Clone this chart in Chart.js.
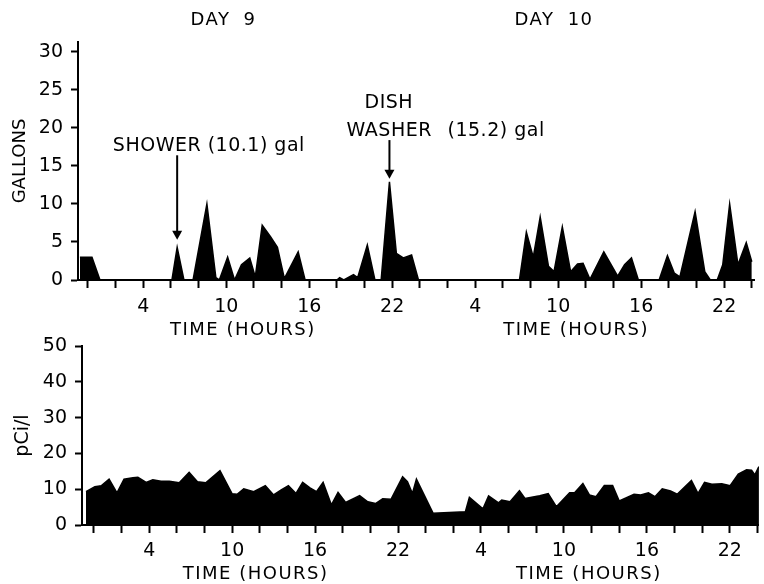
<!DOCTYPE html>
<html>
<head>
<meta charset="utf-8">
<script src="https://cdn.jsdelivr.net/npm/chart.js@4.4.0/dist/chart.umd.min.js"></script>
<style>
    body { margin: 0; background: #fff; }
    canvas { position: absolute; left: 0; }
    #gallonsChart { top: 0; }
    #radonChart { top: 320px; }
</style>
</head>
<body>
<canvas id="gallonsChart" width="764" height="340"></canvas>
<canvas id="radonChart" width="764" height="264"></canvas>
<script>
// Hours are counted from the start of day 9 (24 = start of day 10)

// Water use, gallons
const gallonHours = [-0.58, 0.29, 0.87, 6.07, 6.45, 6.94, 7.6, 8.6, 9.25, 9.5,
    10.1, 10.6, 11.1, 11.7, 12.1, 12.6, 13.2, 13.7, 14.2, 15.2,
    15.7, 18.0, 18.2, 18.5, 19.2, 19.5, 20.2, 20.75, 21.2, 21.8,
    22.3, 22.8, 23.4, 23.9, 31.2, 31.7, 32.2, 32.7, 33.3, 33.7,
    34.3, 34.9, 35.4, 35.8, 36.3, 37.3, 38.3, 38.8, 39.3, 39.8,
    41.3, 41.9, 42.4, 42.8, 43.9, 44.6, 45.0, 45.5, 45.9, 46.4,
    47.0, 47.6, 48.0];
const gallons = [3.0, 3.0, 0, 0, 4.3, 0, 0, 10.0, 0.3, 0,
    3.0, 0, 2.0, 2.9, 0.4, 7.2, 5.7, 4.3, 0.2, 3.7,
    0, 0, 0.3, 0, 0.7, 0.3, 4.6, 0, 0, 12.9,
    3.5, 2.9, 3.3, 0, 0, 6.3, 3.0, 8.3, 1.8, 1.1,
    7.0, 1.1, 2.1, 2.2, 0.1, 3.7, 0.5, 2.0, 2.9, 0,
    0, 3.2, 0.9, 0.4, 9.0, 1.1, 0, 0, 2.0, 10.0,
    2.0, 4.9, 2.4];

// Radon in air, pCi/l
const radonHours = [-0.57, 0.07, 0.55, 1.1, 1.67, 2.18, 2.82, 3.18, 3.78, 4.26,
    4.86, 5.46, 6.17, 6.89, 7.49, 8.09, 9.12, 10.0, 10.36, 10.84,
    11.56, 12.4, 13.0, 13.55, 14.07, 14.62, 15.1, 15.63, 16.1, 16.58,
    17.18, 17.66, 18.21, 19.22, 19.81, 20.37, 20.89, 21.49, 22.33, 22.68,
    23.04, 23.33, 24.53, 26.87, 27.16, 28.14, 28.55, 29.27, 29.5, 30.1,
    30.78, 31.18, 32.25, 32.86, 33.45, 34.41, 34.77, 35.37, 35.84, 36.32,
    36.92, 37.52, 38.0, 39.07, 39.55, 40.11, 40.58, 41.11, 41.71, 42.19,
    43.22, 43.7, 44.17, 44.7, 45.42, 46.02, 46.61, 47.21, 47.57, 47.81,
    48.1];
const radon = [9.3, 10.7, 11.0, 12.8, 9.0, 12.8, 13.2, 13.3, 11.9, 12.6,
    12.2, 12.2, 11.8, 14.7, 12.1, 11.8, 15.2, 8.7, 8.6, 10.1,
    9.3, 11.0, 8.4, 9.8, 11.0, 8.8, 11.9, 10.4, 9.3, 11.9,
    5.6, 9.1, 6.3, 8.2, 6.5, 6.0, 7.3, 7.2, 13.5, 12.1,
    8.8, 12.8, 3.3, 3.7, 7.7, 4.5, 8.1, 6.2, 7.0, 6.5,
    9.6, 7.4, 8.2, 8.8, 5.1, 9.0, 9.0, 11.6, 8.4, 7.9,
    11.0, 11.0, 6.7, 8.6, 8.4, 9.0, 7.9, 10.1, 9.5, 8.6,
    12.4, 8.8, 11.9, 11.4, 11.5, 11.0, 14.2, 15.4, 15.3, 14.0,
    16.3];

// Axis ticks
const hourTicks = [0, 2, 4, 6, 8, 10, 12, 14, 16, 18, 20, 22, 24,
    26, 28, 30, 32, 34, 36, 38, 40, 42, 44, 46, 48];
const hourTickLabels = ['', '', '4', '', '', '10', '', '', '16', '', '', '22', '',
    '', '4', '', '', '10', '', '', '16', '', '', '22', ''];
const gallonTicks = [0, 5, 10, 15, 20, 25, 30];
const radonTicks = [0, 10, 20, 30, 40, 50];

const FONT = '"DejaVu Sans", sans-serif';
Chart.defaults.color = '#000';
Chart.defaults.font.family = FONT;

// Texto y flechas sobre el grafico
const notesPlugin = {
    id: 'notes',
    afterDraw(chart, args, opts) {
        const ctx = chart.ctx;
        const x = chart.scales.x;
        const y = chart.scales.y;
        ctx.save();
        ctx.fillStyle = '#000';
        ctx.strokeStyle = '#000';
        (opts.labels || []).forEach(l => {
            ctx.font = l.size + 'px ' + FONT;
            ctx.letterSpacing = (l.spacing || 0) + 'px';
            ctx.wordSpacing = (l.wordSpacing || 0) + 'px';
            ctx.textAlign = l.align || 'center';
            ctx.textBaseline = 'middle';
            ctx.fillText(l.text, x.getPixelForValue(l.hour), y.getPixelForValue(l.value));
        });
        (opts.arrows || []).forEach(a => {
            const px = x.getPixelForValue(a.hour);
            const y0 = y.getPixelForValue(a.from);
            const y1 = y.getPixelForValue(a.to);
            ctx.lineWidth = 2;
            ctx.beginPath();
            ctx.moveTo(px, y0);
            ctx.lineTo(px, y1 - 8);
            ctx.stroke();
            ctx.beginPath();
            ctx.moveTo(px - 5, y1 - 9);
            ctx.lineTo(px + 5, y1 - 9);
            ctx.lineTo(px, y1);
            ctx.closePath();
            ctx.fill();
        });
        ctx.restore();
    }
};

function toPoints(hours, values) {
    return hours.map((h, i) => ({ x: h, y: values[i] }));
}

function hourAxis(min, max, labelPadding, scaleHeight) {
    return {
        type: 'linear',
        min: min,
        max: max,
        afterBuildTicks: scale => {
            scale.ticks = hourTicks.map(v => ({ value: v }));
        },
        afterFit: scale => {
            scale.height = scaleHeight;
        },
        ticks: {
            autoSkip: false,
            maxRotation: 0,
            padding: labelPadding,
            font: { size: 19 },
            callback: (value, index) => hourTickLabels[index]
        },
        grid: {
            drawOnChartArea: false,
            drawTicks: true,
            tickLength: 8,
            tickColor: '#000',
            tickWidth: 2
        },
        border: { display: true, color: '#000', width: 2 }
    };
}

function valueAxis(max, tickValues, title, titleSize, titlePad, scaleWidth) {
    return {
        min: 0,
        max: max,
        afterBuildTicks: scale => {
            scale.ticks = tickValues.map(v => ({ value: v }));
        },
        afterFit: scale => {
            scale.width = scaleWidth;
        },
        ticks: {
            padding: 8,
            font: { size: 19 }
        },
        grid: {
            drawOnChartArea: false,
            drawTicks: true,
            tickLength: 7,
            tickColor: '#000',
            tickWidth: 2
        },
        border: { display: true, color: '#000', width: 2 },
        title: {
            display: true,
            text: title,
            font: { size: titleSize },
            padding: { top: titlePad, bottom: 0 }
        }
    };
}

function areaDataset(points) {
    return {
        data: points,
        borderColor: '#000',
        backgroundColor: '#000',
        borderWidth: 1.5,
        pointRadius: 0,
        tension: 0,
        fill: 'origin'
    };
}

new Chart(document.getElementById('gallonsChart'), {
    type: 'line',
    data: { datasets: [areaDataset(toPoints(gallonHours, gallons))] },
    plugins: [notesPlugin],
    options: {
        responsive: false,
        animation: false,
        layout: { padding: { top: 42, right: 10, left: 0, bottom: 0 } },
        plugins: {
            legend: { display: false },
            tooltip: { enabled: false },
            notes: {
                labels: [
                    { text: 'DAY 9', hour: 9.8, value: 34.2, size: 18, spacing: 1.5, wordSpacing: 6 },
                    { text: 'DAY 10', hour: 33.7, value: 34.2, size: 18, spacing: 1.5, wordSpacing: 6 },
                    { text: 'TIME (HOURS)', hour: 11.2, value: -6.6, size: 18, spacing: 1.5 },
                    { text: 'TIME (HOURS)', hour: 35.3, value: -6.6, size: 18, spacing: 1.5 },
                    { text: 'SHOWER (10.1) gal', hour: 1.8, value: 17.6, size: 19, spacing: 0.5, align: 'left' },
                    { text: 'DISH', hour: 20.0, value: 23.3, size: 19, spacing: 0.5, align: 'left' },
                    { text: 'WASHER', hour: 18.7, value: 19.6, size: 19, spacing: 0.5, align: 'left' },
                    { text: '(15.2) gal', hour: 26.0, value: 19.6, size: 19, spacing: 0.5, align: 'left' }
                ],
                arrows: [
                    { hour: 6.45, from: 16.4, to: 5.3 },
                    { hour: 21.8, from: 18.4, to: 13.3 }
                ]
            }
        },
        scales: {
            x: hourAxis(-0.72, 48.16, 8, 60),
            y: valueAxis(31.3, gallonTicks, 'GALLONS', 18, 10, 78)
        }
    }
});

new Chart(document.getElementById('radonChart'), {
    type: 'line',
    data: { datasets: [areaDataset(toPoints(radonHours, radon))] },
    plugins: [notesPlugin],
    options: {
        responsive: false,
        animation: false,
        layout: { padding: { top: 26, right: 0, left: 0, bottom: 0 } },
        plugins: {
            legend: { display: false },
            tooltip: { enabled: false },
            notes: {
                labels: [
                    { text: 'TIME (HOURS)', hour: 11.7, value: -13.7, size: 18, spacing: 1.5 },
                    { text: 'TIME (HOURS)', hour: 35.8, value: -13.7, size: 18, spacing: 1.5 }
                ]
            }
        },
        scales: {
            x: hourAxis(-0.86, 48.1, 6.5, 59),
            y: valueAxis(50, radonTicks, 'pCi/l', 19, 12, 82)
        }
    }
});
</script>
</body>
</html>
